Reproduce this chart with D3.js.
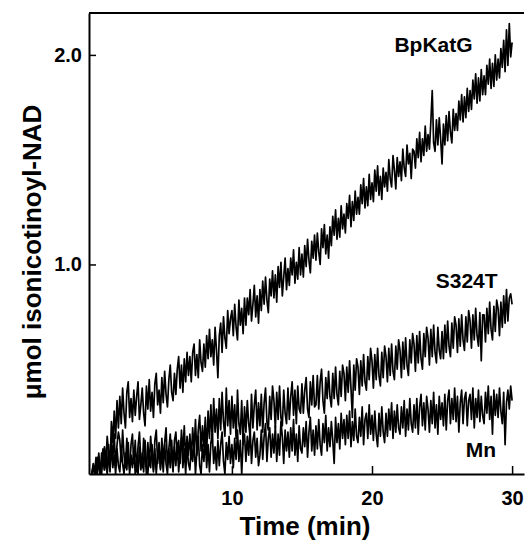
<!DOCTYPE html>
<html>
<head>
<meta charset="utf-8">
<script src="https://cdn.jsdelivr.net/npm/d3@7"></script>
<style>
  html, body { margin: 0; padding: 0; background: #fff; }
  svg text { font-family: "Liberation Sans", Arial, sans-serif; font-weight: bold; fill: #000; }
</style>
</head>
<body>
<svg id="chart" width="525" height="543"></svg>
<script>
// sampling interval of the traces (min)
const dt = 0.1;

// BpKatG trace, umol isonicotinoyl-NAD, one value every dt from 0 to 30 min
const bpKatG = [
  0.00,0.04,0.01,0.00,0.08,0.03,0.00,0.10,0.05,0.13,
  0.06,0.18,0.10,0.03,0.25,0.15,0.30,0.17,0.35,0.22,
  0.37,0.24,0.41,0.29,0.22,0.39,0.44,0.27,0.36,0.25,
  0.40,0.28,0.37,0.44,0.26,0.33,0.41,0.29,0.23,0.42,
  0.31,0.45,0.30,0.39,0.27,0.43,0.48,0.33,0.40,0.29,
  0.46,0.34,0.49,0.38,0.32,0.45,0.52,0.39,0.35,0.48,
  0.38,0.50,0.56,0.41,0.52,0.39,0.55,0.44,0.58,0.47,
  0.56,0.44,0.58,0.62,0.47,0.57,0.46,0.64,0.53,0.49,
  0.62,0.51,0.66,0.55,0.69,0.56,0.64,0.52,0.70,0.59,
  0.46,0.66,0.72,0.58,0.75,0.65,0.60,0.78,0.67,0.74,
  0.78,0.66,0.81,0.70,0.64,0.83,0.71,0.79,0.67,0.84,
  0.71,0.84,0.76,0.88,0.73,0.81,0.90,0.75,0.85,0.72,
  0.88,0.78,0.92,0.81,0.94,0.83,0.77,0.93,0.85,0.97,
  0.84,0.95,0.82,0.99,0.89,1.01,0.85,0.94,1.03,0.88,
  0.98,0.90,1.03,0.95,1.07,0.91,1.01,0.93,1.08,0.95,
  1.05,0.94,1.09,0.99,1.12,1.02,0.96,1.11,1.03,1.14,
  1.02,1.15,1.06,1.00,1.17,1.08,1.19,1.05,1.14,1.03,
  1.18,1.09,1.23,1.14,1.26,1.12,1.22,1.13,1.28,1.17,
  1.24,1.15,1.29,1.22,1.33,1.18,1.30,1.21,1.35,1.24,
  1.32,1.24,1.38,1.29,1.41,1.27,1.37,1.28,1.43,1.31,
  1.39,1.30,1.45,1.35,1.47,1.33,1.42,1.31,1.46,1.37,
  1.44,1.35,1.50,1.41,1.37,1.52,1.45,1.36,1.51,1.42,
  1.49,1.40,1.55,1.46,1.42,1.57,1.48,1.53,1.41,1.55,
  1.54,1.46,1.60,1.51,1.63,1.49,1.60,1.52,1.66,1.54,
  1.62,1.55,1.68,1.83,1.58,1.54,1.69,1.57,1.70,1.60,
  1.48,1.67,1.57,1.71,1.59,1.73,1.63,1.58,1.74,1.64,
  1.72,1.64,1.78,1.69,1.81,1.68,1.80,1.70,1.84,1.73,
  1.83,1.74,1.88,1.79,1.91,1.77,1.89,1.78,1.93,1.81,
  1.90,1.81,1.95,1.86,1.98,1.84,1.96,1.85,2.00,1.88,
  1.98,1.89,2.03,1.94,2.07,1.92,2.12,1.95,2.15,1.99,
  2.06
];

// S324T trace
const s324T = [
  0.00,0.05,0.00,0.08,0.02,0.10,0.00,0.06,0.12,0.02,
  0.10,0.01,0.14,0.04,0.16,0.07,0.19,0.03,0.14,0.20,
  0.16,0.06,0.21,0.09,0.03,0.17,0.08,0.02,0.14,0.19,
  0.05,0.16,0.01,0.13,0.20,0.07,0.03,0.17,0.09,0.00,
  0.15,0.04,0.18,0.08,0.02,0.16,0.21,0.05,0.13,0.03,
  0.17,0.06,0.15,0.22,0.04,0.12,0.19,0.08,0.01,0.16,
  0.20,0.07,0.16,0.05,0.21,0.10,0.23,0.06,0.18,0.09,
  0.19,0.07,0.22,0.11,0.26,0.09,0.21,0.28,0.11,0.23,
  0.13,0.27,0.10,0.30,0.17,0.33,0.15,0.36,0.20,0.31,
  0.17,0.36,0.21,0.39,0.25,0.18,0.41,0.23,0.35,0.19,
  0.37,0.22,0.33,0.17,0.40,0.24,0.19,0.35,0.14,0.32,
  0.20,0.35,0.24,0.18,0.38,0.22,0.33,0.40,0.21,0.34,
  0.23,0.38,0.20,0.34,0.41,0.25,0.21,0.37,0.26,0.42,
  0.35,0.22,0.39,0.26,0.42,0.27,0.23,0.40,0.29,0.24,
  0.41,0.26,0.37,0.44,0.28,0.40,0.24,0.42,0.31,0.29,
  0.43,0.29,0.40,0.46,0.31,0.27,0.44,0.33,0.47,0.32,
  0.33,0.47,0.31,0.44,0.50,0.35,0.29,0.46,0.36,0.49,
  0.37,0.32,0.48,0.36,0.51,0.38,0.33,0.49,0.37,0.52,
  0.48,0.35,0.51,0.39,0.54,0.41,0.27,0.52,0.40,0.55,
  0.51,0.38,0.54,0.42,0.57,0.44,0.40,0.56,0.45,0.60,
  0.54,0.41,0.57,0.45,0.60,0.47,0.42,0.58,0.46,0.61,
  0.56,0.44,0.60,0.47,0.62,0.49,0.45,0.61,0.50,0.64,
  0.59,0.46,0.63,0.50,0.65,0.52,0.47,0.64,0.53,0.67,
  0.62,0.49,0.66,0.53,0.68,0.55,0.50,0.67,0.56,0.70,
  0.65,0.52,0.69,0.56,0.71,0.58,0.53,0.70,0.59,0.55,
  0.68,0.55,0.71,0.58,0.73,0.61,0.56,0.72,0.60,0.75,
  0.71,0.58,0.74,0.61,0.76,0.64,0.59,0.75,0.63,0.78,
  0.73,0.60,0.76,0.64,0.79,0.66,0.61,0.77,0.54,0.76,
  0.76,0.63,0.79,0.67,0.82,0.69,0.64,0.80,0.68,0.83,
  0.79,0.66,0.82,0.70,0.85,0.72,0.88,0.73,0.84,0.86,
  0.81
];

// Mn trace
const mn = [
  0.00,0.03,0.00,0.06,0.00,0.08,0.01,0.00,0.09,0.02,
  0.07,0.00,0.11,0.01,0.14,0.03,0.09,0.00,0.12,0.04,
  0.01,0.13,0.05,0.00,0.10,0.02,0.15,0.00,0.09,0.03,
  0.12,0.00,0.07,0.00,0.13,0.02,0.10,0.01,0.16,0.04,
  0.00,0.10,0.03,0.14,0.01,0.12,0.00,0.09,0.15,0.02,
  0.11,0.01,0.14,0.05,0.00,0.12,0.03,0.16,0.02,0.13,
  0.04,0.15,0.01,0.10,0.17,0.03,0.12,0.00,0.14,0.05,
  0.02,0.13,0.06,0.16,0.00,0.11,0.18,0.04,0.00,0.14,
  0.06,0.17,0.03,0.14,0.01,0.15,0.19,0.05,0.13,0.02,
  0.16,0.04,0.14,0.20,0.06,0.00,0.15,0.07,0.18,0.05,
  0.14,0.03,0.17,0.07,0.21,0.06,0.16,0.00,0.15,0.19,
  0.06,0.18,0.09,0.22,0.05,0.16,0.20,0.08,0.17,0.04,
  0.09,0.21,0.07,0.18,0.24,0.06,0.17,0.22,0.08,0.19,
  0.10,0.23,0.06,0.19,0.09,0.25,0.18,0.05,0.21,0.11,
  0.20,0.08,0.22,0.11,0.26,0.09,0.19,0.06,0.23,0.12,
  0.10,0.22,0.13,0.25,0.08,0.20,0.27,0.11,0.21,0.09,
  0.23,0.12,0.26,0.14,0.09,0.24,0.15,0.28,0.11,0.22,
  0.13,0.25,0.16,0.05,0.27,0.15,0.24,0.12,0.29,0.17,
  0.26,0.14,0.28,0.17,0.30,0.13,0.25,0.16,0.31,0.18,
  0.15,0.27,0.18,0.32,0.14,0.26,0.29,0.17,0.33,0.19,
  0.28,0.16,0.30,0.19,0.13,0.29,0.18,0.32,0.20,0.15,
  0.29,0.18,0.31,0.21,0.34,0.17,0.30,0.20,0.33,0.22,
  0.19,0.32,0.22,0.35,0.18,0.31,0.21,0.36,0.24,0.20,
  0.33,0.22,0.36,0.19,0.32,0.38,0.23,0.34,0.21,0.37,
  0.31,0.20,0.35,0.24,0.39,0.22,0.33,0.19,0.37,0.26,
  0.34,0.23,0.38,0.21,0.35,0.40,0.24,0.36,0.26,0.41,
  0.25,0.37,0.20,0.34,0.40,0.24,0.36,0.39,0.23,0.35,
  0.38,0.26,0.41,0.22,0.36,0.27,0.40,0.25,0.37,0.28,
  0.24,0.39,0.29,0.42,0.26,0.37,0.19,0.40,0.28,0.38,
  0.27,0.41,0.30,0.24,0.39,0.14,0.34,0.40,0.31,0.42,
  0.35
];

const seriesNames = ["BpKatG", "S324T", "Mn"];
const xTicks = [10, 20, 30];
const yTicks = [1.0, 2.0];

const plotLeft = 89, plotRight = 524, plotTop = 13, plotBottom = 474;

const svg = d3.select("#chart");

const x = d3.scaleLinear().domain([-0.2, 30.85]).range([plotLeft, plotRight]);
const y = d3.scaleLinear().domain([0, 2.2]).range([plotBottom, plotTop]);

// traces
const line = d3.line()
    .x((d, i) => x(i * dt))
    .y(d => y(d));

svg.append("g")
  .selectAll("path")
  .data([bpKatG, s324T, mn])
  .join("path")
    .attr("fill", "none")
    .attr("stroke", "#000")
    .attr("stroke-width", 1.7)
    .attr("stroke-linejoin", "round")
    .attr("d", line);

// axes, ticks point inward
svg.append("g")
    .attr("transform", `translate(${plotLeft},0)`)
    .call(d3.axisLeft(y).tickValues(yTicks).tickFormat(d3.format(".1f"))
      .tickSizeInner(-7).tickSizeOuter(0).tickPadding(7))
    .call(g => g.select(".domain").attr("stroke-width", 2))
    .call(g => g.selectAll(".tick line").attr("stroke-width", 1.5))
    .call(g => g.selectAll("text")
      .attr("font-size", 20)
      .attr("font-family", "Liberation Sans, Arial, sans-serif")
      .attr("font-weight", "bold"));

svg.append("g")
    .attr("transform", `translate(0,${plotBottom})`)
    .call(d3.axisBottom(x).tickValues(xTicks)
      .tickSizeInner(-8).tickSizeOuter(0).tickPadding(17))
    .call(g => g.select(".domain").attr("stroke-width", 2))
    .call(g => g.selectAll(".tick line").attr("stroke-width", 1.5))
    .call(g => g.selectAll("text")
      .attr("font-size", 20)
      .attr("font-family", "Liberation Sans, Arial, sans-serif")
      .attr("font-weight", "bold"));

// top frame line
svg.append("line")
    .attr("x1", plotLeft).attr("x2", plotRight)
    .attr("y1", plotTop).attr("y2", plotTop)
    .attr("stroke", "#000").attr("stroke-width", 2);

// axis titles
svg.append("text")
    .attr("x", 305).attr("y", 535)
    .attr("text-anchor", "middle")
    .attr("font-size", 26)
    .text("Time (min)");

svg.append("text")
    .attr("transform", "translate(41,252) rotate(-90)")
    .attr("text-anchor", "middle")
    .attr("font-size", 26)
    .text("\u03bcmol isonicotinoyl-NAD");

// trace labels (data coordinates of the text start)
const labelPos = [[21.6, 2.014], [24.55, 0.888], [26.7, 0.081]];
svg.append("g")
  .selectAll("text")
  .data(seriesNames)
  .join("text")
    .attr("x", (d, i) => x(labelPos[i][0]))
    .attr("y", (d, i) => y(labelPos[i][1]))
    .attr("font-size", 21)
    .text(d => d);
</script>
